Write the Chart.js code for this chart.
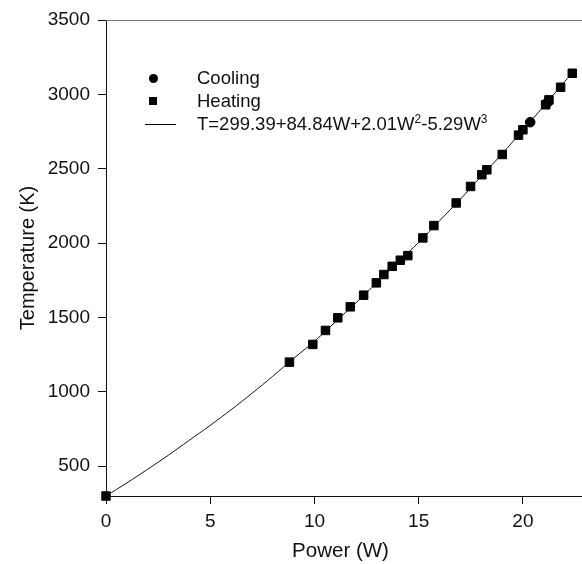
<!DOCTYPE html>
<html>
<head>
<meta charset="utf-8">
<script src="https://cdn.jsdelivr.net/npm/chart.js@4.4.0/dist/chart.umd.min.js"></script>
<style>
html, body { margin: 0; padding: 0; background: #fff; }
#wrap { position: relative; width: 582px; height: 564px; }
#legend { position: absolute; left: 0; top: 0; font-family: "Liberation Sans", Arial, sans-serif; font-size: 18.5px; color: #111; }
.row { position: absolute; left: 197px; white-space: nowrap; line-height: 20px; }
.mk { position: absolute; background: #000; }
sup { font-size: 12px; vertical-align: 7px; line-height: 0; }
</style>
</head>
<body>
<div id="wrap">
  <canvas id="chart" width="582" height="564"></canvas>
  <div id="legend">
    <div class="mk" style="left:149px;top:74px;width:9px;height:9px;border-radius:50%"></div>
    <div class="row" style="top:68px">Cooling</div>
    <div class="mk" style="left:149px;top:97px;width:8px;height:8px"></div>
    <div class="row" style="top:91px">Heating</div>
    <div class="mk" style="left:145px;top:124px;width:31px;height:1px"></div>
    <div class="row" style="top:114px">T=299.39+84.84W+2.01W<sup>2</sup>-5.29W<sup>3</sup></div>
  </div>
</div>
<script>
// values
const heatW = [0, 8.80, 9.92, 10.53, 11.12, 11.72, 12.36, 12.97, 13.33, 13.73, 14.12, 14.48, 15.20, 15.73, 16.80, 17.49, 18.03, 18.27, 19.01, 19.79, 20.00, 21.09, 21.25, 21.81, 22.37];
const heatT = [300, 1200, 1319, 1413, 1498, 1572, 1650, 1733, 1789, 1844, 1885, 1916, 2035, 2118, 2270, 2381, 2460, 2493, 2596, 2726, 2762, 2930, 2963, 3048, 3142];
const coolW = [20.35, 21.18];
const coolT = [2813, 2945];
const fitW = [0, 1, 2, 3, 4, 5, 6, 7, 8, 9, 10, 11, 12, 13, 14, 15, 16, 17, 18, 19, 20, 21, 22, 22.5];
const fitT = [300, 388, 480, 575, 675, 775, 880, 990, 1105, 1225, 1340, 1470, 1600, 1735, 1870, 2005, 2150, 2295, 2450, 2600, 2760, 2920, 3085, 3165];
const xTicks = [0, 5, 10, 15, 20];
const yTicks = [500, 1000, 1500, 2000, 2500, 3000, 3500];

function pts(xs, ys) {
    return xs.map((x, i) => ({ x: x, y: ys[i] }));
}

const font = "'Liberation Sans', Arial, sans-serif";

// grey frame line along the top, and the x axis run out to the right edge
const frameLines = {
    id: "frameLines",
    afterDraw(chart) {
        const a = chart.chartArea, c = chart.ctx, w = chart.width;
        c.save();
        c.lineWidth = 1;
        c.strokeStyle = "#777";
        c.beginPath();
        c.moveTo(a.left, a.top + 0.5);
        c.lineTo(w, a.top + 0.5);
        c.stroke();
        c.strokeStyle = "#111";
        c.beginPath();
        c.moveTo(a.right, a.bottom + 0.5);
        c.lineTo(w, a.bottom + 0.5);
        c.stroke();
        c.restore();
    }
};

new Chart(document.getElementById("chart"), {
    type: "scatter",
    data: {
        datasets: [
            {
                label: "fit",
                type: "line",
                data: pts(fitW, fitT),
                borderColor: "#111",
                borderWidth: 1,
                pointRadius: 0,
                tension: 0.4,
                fill: false,
                clip: false
            },
            {
                label: "Heating",
                data: pts(heatW, heatT),
                pointStyle: "rect",
                pointRadius: 6,
                backgroundColor: "#000",
                borderColor: "#000",
                clip: false
            },
            {
                label: "Cooling",
                data: pts(coolW, coolT),
                pointStyle: "circle",
                pointRadius: 4.8,
                backgroundColor: "#000",
                borderColor: "#000",
                clip: false
            }
        ]
    },
    options: {
        responsive: false,
        animation: false,
        layout: { padding: { top: 20, right: 0, left: 0, bottom: 0 } },
        plugins: { legend: { display: false }, tooltip: { enabled: false } },
        scales: {
            x: {
                type: "linear",
                min: 0,
                max: 22.5,
                afterBuildTicks: s => { s.ticks = xTicks.map(v => ({ value: v })); },
                afterFit: s => { s.height = 68; },
                ticks: { color: "#111", font: { family: font, size: 19 }, padding: 6, callback: v => String(v) },
                grid: { drawOnChartArea: false, drawTicks: true, tickLength: 8, color: "#111" },
                border: { color: "#111", width: 1 },
                title: { display: true, text: "Power (W)", color: "#111", font: { family: font, size: 20.5 }, padding: { top: 0, bottom: 0 } }
            },
            y: {
                type: "linear",
                min: 300,
                max: 3500,
                afterBuildTicks: s => { s.ticks = yTicks.map(v => ({ value: v })); },
                afterFit: s => { s.width = 106; },
                ticks: { color: "#111", font: { family: font, size: 19 }, padding: 8, callback: v => String(v) },
                grid: { drawOnChartArea: false, drawTicks: true, tickLength: 8, color: "#111" },
                border: { color: "#111", width: 1 },
                title: { display: true, text: "Temperature (K)", color: "#111", font: { family: font, size: 20 }, padding: { top: 16, bottom: 0 } }
            }
        }
    },
    plugins: [frameLines]
});
</script>
</body>
</html>
